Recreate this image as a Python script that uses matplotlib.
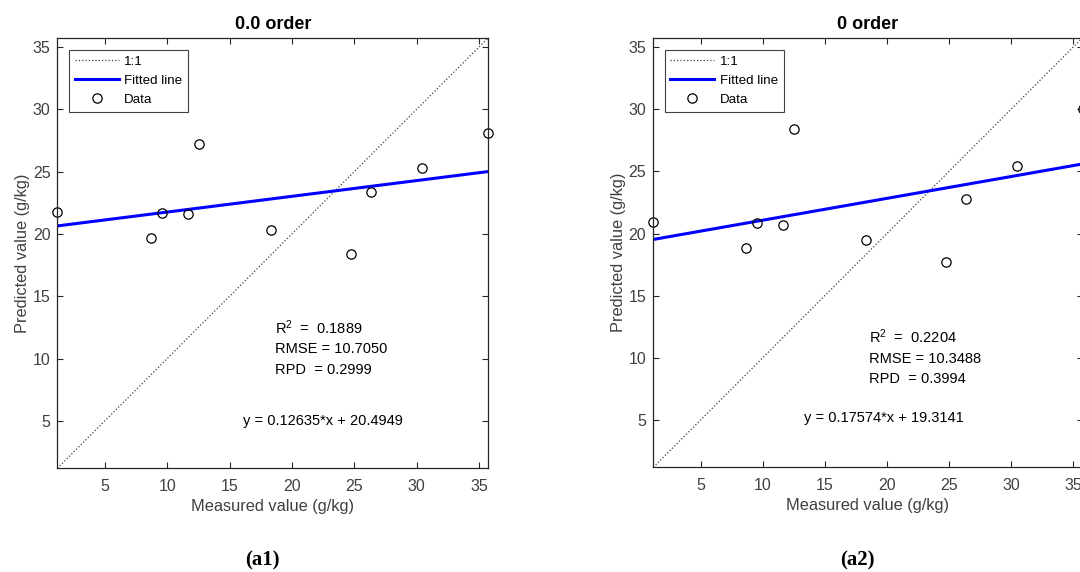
import matplotlib
matplotlib.use('Agg')
import matplotlib.pyplot as plt
import numpy as np

plt.rcParams['font.family'] = ['Liberation Sans', 'DejaVu Sans']
plt.rcParams['mathtext.fontset'] = 'custom'
plt.rcParams['mathtext.rm'] = 'Liberation Sans'
plt.rcParams['mathtext.it'] = 'Liberation Sans'

# daten
measured = [1.2, 8.7, 9.55, 11.65, 12.55, 18.3, 24.75, 26.35, 30.45, 35.75]
pred_a1 = [21.75, 19.7, 21.67, 21.59, 27.23, 20.36, 18.39, 23.38, 25.28, 28.08]
pred_a2 = [20.92, 18.81, 20.84, 20.68, 28.38, 19.47, 17.68, 22.77, 25.4, 30.0]

titles = ['0.0 order', '0 order']
captions = ['a1', 'a2']
slopes = [0.12635, 0.17574]
intercepts = [20.4949, 19.3141]
r2 = ['0.1889', '0.2204']
rmse = ['10.7050', '10.3488']
rpd = ['0.2999', '0.3994']

fig = plt.figure(figsize=(10.8, 5.72), dpi=100)
ax1 = fig.add_axes([0.0531, 0.1813, 0.3991, 0.7528])
ax2 = fig.add_axes([0.6049, 0.1830, 0.3975, 0.7511])

# textpositionen pro panel
txt_pos = [(18.68, 12.5, 10.8, 9.12, 16.1, 4.98), (18.6, 11.7, 9.95, 8.32, 13.29, 5.13)]
cap_x = [262 / 1080, 857 / 1080]

lo = min(measured)
hi = max(measured)
for i, (ax, pred) in enumerate(zip([ax1, ax2], [pred_a1, pred_a2])):
    xx = np.array([lo, hi])
    ax.plot(xx, xx, ':', color='#404040', lw=0.9, label='1:1')
    ax.plot(xx, slopes[i] * xx + intercepts[i], '-', color='#0000ff', lw=2.2, label='Fitted line')
    ax.plot(measured, pred, 'o', mfc='none', mec='black', ms=6.7, mew=0.9, label='Data', clip_on=False)
    ax.set_xlim(lo, hi)
    ax.set_ylim(lo, hi)
    ax.set_xticks([5, 10, 15, 20, 25, 30, 35])
    ax.set_yticks([5, 10, 15, 20, 25, 30, 35])
    ax.tick_params(direction='in', top=True, right=True, length=4, width=0.8, colors='#262626',
                   labelcolor='#404040', labelsize=11.5)
    ax.tick_params(axis='x', pad=7.5)
    ax.tick_params(axis='y', pad=5)
    for s in ax.spines.values():
        s.set_linewidth(0.9)
        s.set_color('#262626')
    ax.set_xlabel('Measured value (g/kg)', fontsize=11.8, color='#404040', labelpad=4)
    ax.set_ylabel('Predicted value (g/kg)', fontsize=11.8, color='#404040', labelpad=2)
    ax.set_title(titles[i], fontsize=13, fontweight='bold', pad=6)
    leg = ax.legend(loc='upper left', bbox_to_anchor=(0.027, 0.971), borderaxespad=0, fontsize=9.6,
                    fancybox=False, framealpha=1, edgecolor='#404040', handlelength=3.3,
                    handletextpad=0.4, labelspacing=0.5, borderpad=0.42)
    leg.get_frame().set_linewidth(0.8)
    p = txt_pos[i]
    ax.text(p[0], p[1], 'R$^2$  =  ' + r2[i], fontsize=10.5, va='center')
    ax.text(p[0], p[2], 'RMSE = ' + rmse[i], fontsize=10.5, va='center')
    ax.text(p[0], p[3], 'RPD  = ' + rpd[i], fontsize=10.5, va='center')
    ax.text(p[4], p[5], 'y = %s*x + %s' % (slopes[i], intercepts[i]), fontsize=10.5, va='center')
    fig.text(cap_x[i], 0.02, '(' + captions[i] + ')', fontsize=15, fontweight='bold',
             family='Liberation Serif', ha='center', va='center')

fig.savefig('out.png', dpi=100)
